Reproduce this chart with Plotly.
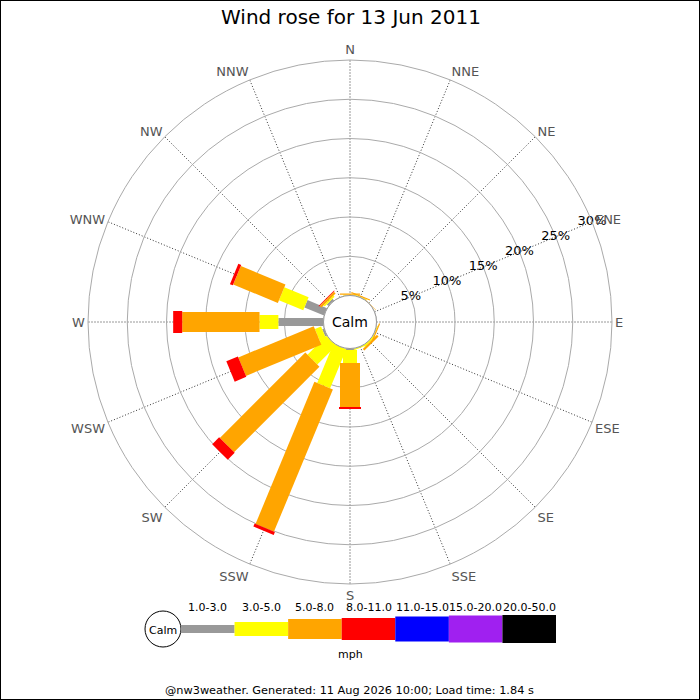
import plotly.graph_objects as go

# wind rose data, percent of the day per direction and speed bin
directions = ['N', 'NNE', 'NE', 'ENE', 'E', 'ESE', 'SE', 'SSE',
              'S', 'SSW', 'SW', 'WSW', 'W', 'WNW', 'NW', 'NNW']
speed_bins = ['1.0-3.0', '3.0-5.0', '5.0-8.0', '8.0-11.0', '11.0-15.0', '15.0-20.0', '20.0-50.0']
bin_colors = ['#999999', '#ffff00', '#ffa500', '#ff0000', '#0000ff', '#a020f0', '#000000']
bin_widths = [8, 14, 20, 22, 25, 27, 28]

pct_1_3 = [0, 0, 0, 0, 0, 0, 0, 0, 0.2, 0, 0, 0.25, 5.75, 2.7, 0.3, 0]
pct_3_5 = [0.1, 0.1, 0, 0, 0, 0.1, 0.2, 0.15, 1.65, 5.4, 3.4, 0.85, 2.4, 3.35, 0.2, 0]
pct_5_8 = [0.15, 0.15, 0.05, 0, 0, 0.15, 0.3, 0, 5.6, 19.6, 15.4, 10.4, 9.85, 6.15, 0.3, 0]
pct_8_11 = [0, 0, 0, 0, 0, 0, 0, 0, 0.25, 0.4, 1.25, 1.6, 1.15, 0.4, 0.1, 0]
pct_11_15 = [0] * 16
pct_15_20 = [0] * 16
pct_20_50 = [0] * 16
series = [pct_1_3, pct_3_5, pct_5_8, pct_8_11, pct_11_15, pct_15_20, pct_20_50]

radial_ticks = [5, 10, 15, 20, 25, 30]
radial_labels = [str(v) + '%' for v in radial_ticks]
angles = [i * 22.5 for i in range(16)]
label_dir = 67.5  # percentages are written along the ENE spoke

title_text = 'Wind rose for 13 Jun 2011'
footer_text = '@nw3weather. Generated: 11 Aug 2026 10:00; Load time: 1.84 s'
FONT = 'DejaVu Sans'

fig = go.Figure()

# stacked segments: each bin is a thick radial line from previous total to new total
base = [0.0] * 16
for vals, name, col, w in zip(series, speed_bins, bin_colors, bin_widths):
    rr, tt = [], []
    for k in range(16):
        if vals[k] > 0:
            rr += [base[k], base[k] + vals[k], None]
            tt += [angles[k], angles[k], None]
        base[k] += vals[k]
    if rr:
        fig.add_trace(go.Scatterpolar(r=rr, theta=tt, mode='lines', name=name,
                                      line=dict(color=col, width=w),
                                      hoverinfo='skip', showlegend=False))

# ring labels centred on the ENE spoke
fig.add_trace(go.Scatterpolar(r=radial_ticks, theta=[label_dir] * len(radial_ticks),
                              mode='text', text=radial_labels, textposition='middle center',
                              textfont=dict(size=13, color='black'), cliponaxis=False,
                              hoverinfo='skip', showlegend=False))

W, H = 700, 700
cx, cy, R = 350, 322, 262
calm_r = 26.5

fig.update_layout(
    width=W, height=H,
    margin=dict(l=0, r=0, t=0, b=0),
    paper_bgcolor='white',
    font=dict(family=FONT, color='black'),
    showlegend=False,
    polar=dict(
        domain=dict(x=[(cx - R) / W, (cx + R) / W], y=[(H - cy - R) / H, (H - cy + R) / H]),
        hole=calm_r / R,
        bgcolor='white',
        angularaxis=dict(rotation=90, direction='clockwise',
                         tickmode='array', tickvals=angles, ticktext=directions,
                         tickfont=dict(size=13, color='#555555'),
                         ticks='', showline=True, linecolor='#aaaaaa', linewidth=1,
                         gridcolor='#333333', griddash='1px,2px', gridwidth=1),
        radialaxis=dict(range=[0, 30], angle=22.5,
                        tickmode='array', tickvals=radial_ticks, showticklabels=False,
                        ticks='', showline=False,
                        gridcolor='#aaaaaa', gridwidth=1),
    ),
)


def txt(x, y, s, size):
    return dict(x=x / W, y=(H - y) / H, xref='paper', yref='paper', text=s,
                xanchor='center', yanchor='middle', showarrow=False, font=dict(size=size))


shapes = []
# calm circle in the middle
shapes.append(dict(type='circle', xref='paper', yref='paper', layer='above',
                   x0=(cx - calm_r) / W, x1=(cx + calm_r) / W,
                   y0=(H - cy - calm_r) / H, y1=(H - cy + calm_r) / H,
                   line=dict(color='#999999', width=1), fillcolor='white'))

# legend strip
lx0, lx1, ly = 181, 556, 629
seg = (lx1 - lx0) / len(speed_bins)
lc_x, lc_r = 163, 18
shapes.append(dict(type='circle', xref='paper', yref='paper',
                   x0=(lc_x - lc_r) / W, x1=(lc_x + lc_r) / W,
                   y0=(H - ly - lc_r) / H, y1=(H - ly + lc_r) / H,
                   line=dict(color='black', width=1), fillcolor='white'))
annotations = [txt(lc_x, ly + 1, 'Calm', 11)]
for i, (name, col, w) in enumerate(zip(speed_bins, bin_colors, bin_widths)):
    a, b = lx0 + i * seg, lx0 + (i + 1) * seg
    shapes.append(dict(type='rect', xref='paper', yref='paper',
                       x0=a / W, x1=b / W, y0=(H - ly - w / 2) / H, y1=(H - ly + w / 2) / H,
                       line=dict(width=0), fillcolor=col))
    annotations.append(txt((a + b) / 2, 607, name, 11))
annotations.append(txt(cx, 654, 'mph', 11))

# frame
shapes.append(dict(type='rect', xref='paper', yref='paper', x0=0, x1=1, y0=0, y1=1,
                   line=dict(color='black', width=2)))

annotations.append(txt(cx, cy, 'Calm', 14))
annotations.append(txt(351, 17, title_text, 20))
annotations.append(txt(349, 690, footer_text, 11.3))

fig.update_layout(shapes=shapes, annotations=annotations)

fig.write_html("out.html", config={'displayModeBar': False},
               post_script="document.body.style.margin='0';")
